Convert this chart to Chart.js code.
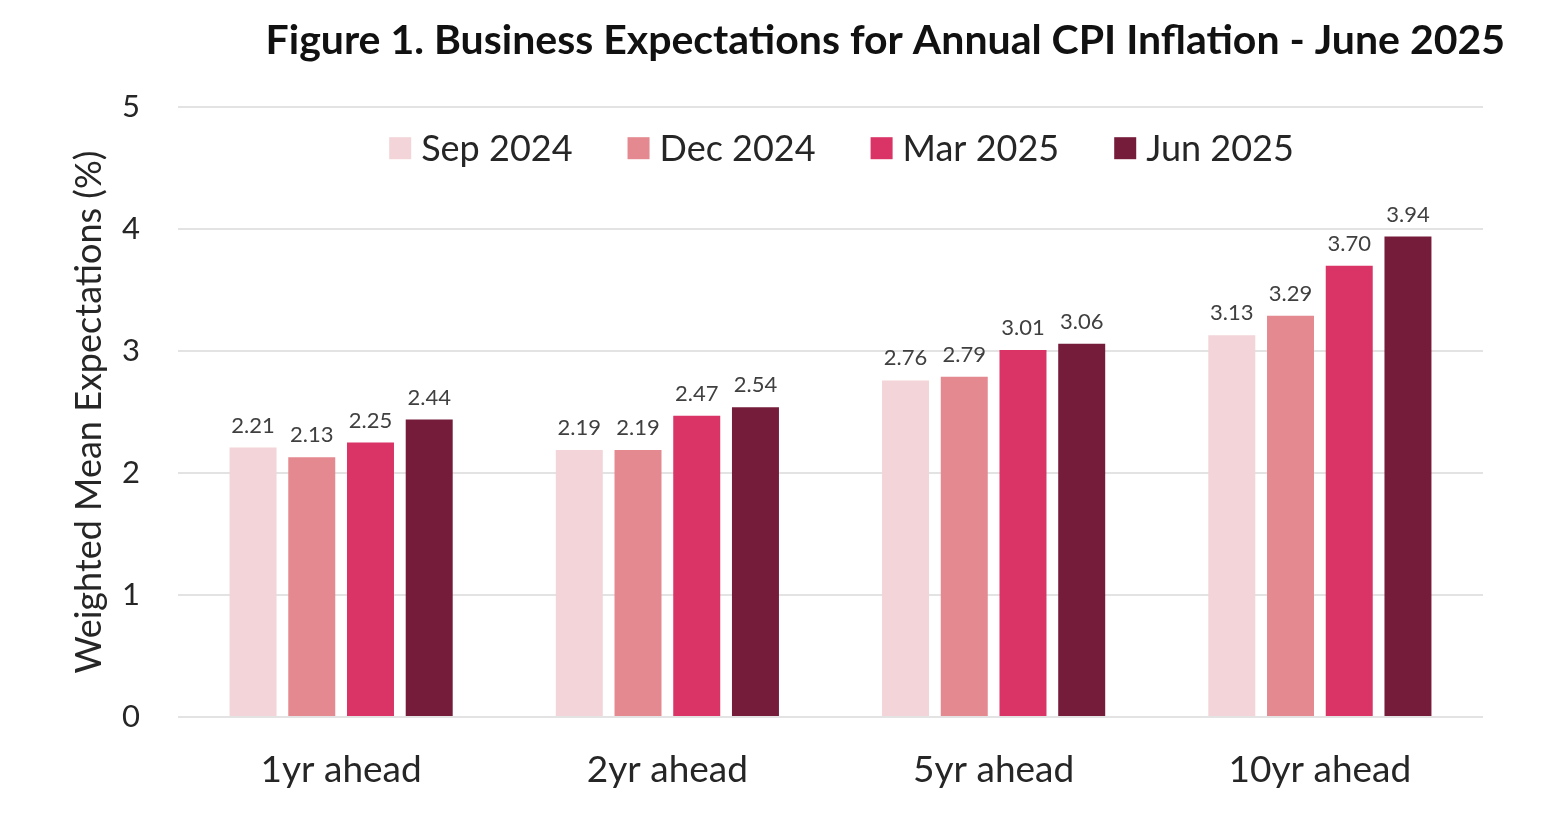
<!DOCTYPE html>
<html>
<head>
<meta charset="utf-8">
<title>Business Expectations for Annual CPI Inflation</title>
<script src="https://cdn.jsdelivr.net/npm/chart.js@4/dist/chart.umd.min.js"></script>
<style>
  body { margin: 0; background: #fff; }
  canvas { display: block; }
</style>
</head>
<body>
<canvas id="cpi-chart" width="1552" height="832"></canvas>
<script>
const categories = ["1yr ahead", "2yr ahead", "5yr ahead", "10yr ahead"];
const seriesNames = ["Sep 2024", "Dec 2024", "Mar 2025", "Jun 2025"];
const sep2024 = [2.21, 2.19, 2.76, 3.13];
const dec2024 = [2.13, 2.19, 2.79, 3.29];
const mar2025 = [2.25, 2.47, 3.01, 3.70];
const jun2025 = [2.44, 2.54, 3.06, 3.94];
const yTicks = [0, 1, 2, 3, 4, 5];

const colors = ["#F3D4D8", "#E4898F", "#DA3366", "#741C3A"];
const fontFamily = "Lato, 'Open Sans', sans-serif";

// value labels above each bar
const barLabels = {
    id: "barLabels",
    afterDatasetsDraw(chart) {
        const ctx = chart.ctx;
        ctx.save();
        ctx.font = "22px " + fontFamily;
        ctx.fillStyle = "#404040";
        ctx.textAlign = "center";
        ctx.textBaseline = "bottom";
        chart.data.datasets.forEach((ds, i) => {
            chart.getDatasetMeta(i).data.forEach((bar, j) => {
                ctx.fillText(ds.data[j].toFixed(2), bar.x, bar.y - 11);
            });
        });
        ctx.restore();
    }
};

// legend sits inside the plot, just under the top gridline
const innerLegend = {
    id: "innerLegend",
    afterDraw(chart) {
        const ctx = chart.ctx;
        const area = chart.chartArea;
        const box = 22, gap = 10, spacing = 55;
        ctx.save();
        ctx.font = "36px " + fontFamily;
        ctx.textBaseline = "middle";
        const widths = chart.data.datasets.map(ds => box + gap + ctx.measureText(ds.label).width);
        const total = widths.reduce((a, b) => a + b, 0) + spacing * (widths.length - 1);
        let x = (area.left + area.right) / 2 - total / 2 + 11;
        const y = area.top + 41;
        chart.data.datasets.forEach((ds, i) => {
            ctx.fillStyle = ds.backgroundColor;
            ctx.fillRect(x, y - box / 2, box, box);
            ctx.fillStyle = "#262626";
            ctx.fillText(ds.label, x + box + gap, y + 1);
            x += widths[i] + spacing;
        });
        ctx.restore();
    }
};

const seriesData = [sep2024, dec2024, mar2025, jun2025];

const ctx = document.getElementById("cpi-chart").getContext("2d");
new Chart(ctx, {
    type: "bar",
    data: {
        labels: categories,
        datasets: seriesNames.map((name, i) => ({
            label: name,
            data: seriesData[i],
            backgroundColor: colors[i],
            categoryPercentage: 0.72,
            barPercentage: 0.8
        }))
    },
    options: {
        responsive: false,
        animation: false,
        layout: { padding: { left: 68, right: 47, top: 0, bottom: 0 } },
        plugins: {
            legend: { display: false },
            tooltip: { enabled: false },
            title: {
                display: true,
                text: "Figure 1. Business Expectations for Annual CPI Inflation - June 2025",
                align: "end",
                color: "#111",
                font: { family: fontFamily, size: 41, weight: "bold" },
                padding: { top: 16, bottom: 42 }
            }
        },
        scales: {
            x: {
                grid: { display: false },
                border: { display: false },
                afterFit(scale) { scale.height = 115; },
                ticks: {
                    color: "#262626",
                    font: { family: fontFamily, size: 37 },
                    padding: 23
                }
            },
            y: {
                min: 0,
                max: 5,
                afterBuildTicks(scale) {
                    scale.ticks = yTicks.map(v => ({ value: v }));
                },
                afterFit(scale) { scale.width = 110; },
                grid: { color: "#E3E3E3", lineWidth: 2, drawTicks: false },
                border: { display: false },
                ticks: {
                    color: "#262626",
                    font: { family: fontFamily, size: 31 },
                    padding: 38
                },
                title: {
                    display: true,
                    text: "Weighted Mean Expectations (%)",
                    color: "#262626",
                    font: { family: fontFamily, size: 36 },
                    padding: { top: 0, bottom: 6 }
                }
            },
            // empty right-hand spacer so the plot stops short of the title's end
            spacer: {
                type: "linear",
                position: "right",
                grid: { display: false },
                border: { display: false },
                ticks: { display: false },
                afterFit(scale) { scale.width = 22; }
            }
        }
    },
    plugins: [barLabels, innerLegend]
});
</script>
</body>
</html>
